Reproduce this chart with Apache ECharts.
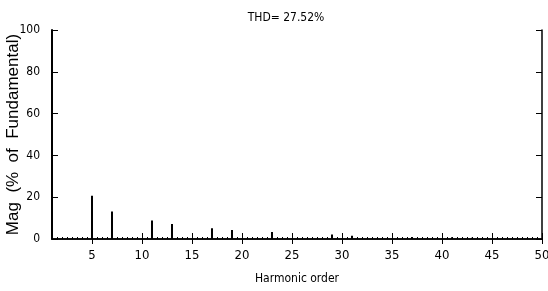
<!DOCTYPE html>
<html>
<head>
<meta charset="utf-8">
<script src="https://cdn.jsdelivr.net/npm/echarts@6/dist/echarts.min.js"></script>
<style>
  html, body { margin: 0; padding: 0; background: #fff; }
  #chart { width: 548px; height: 291px; }
</style>
</head>
<body>
<div id="chart"></div>
<script>
// harmonic spectrum
const orders = [1, 5, 7, 11, 13, 17, 19, 23, 29, 31, 37, 41, 43];
const mags = [100, 20.7, 13.1, 8.8, 7.2, 5.1, 4.3, 3.4, 2.2, 1.6, 0.9, 0.8, 0.6];
const xTicks = [5, 10, 15, 20, 25, 30, 35, 40, 45, 50];
const titleText = 'THD= 27.52%';

const narrow = '"Liberation Sans Narrow", "DejaVu Sans Condensed", "Liberation Sans", Arial, sans-serif';

let chart = echarts.init(document.getElementById('chart'));

const tickStyle = { show: true, inside: true, length: 6, lineStyle: { color: '#000', width: 1 } };

chart.setOption({
    animation: false,
    backgroundColor: '#fff',
    title: {
        text: titleText,
        left: 281,
        top: 7,
        textAlign: 'center',
        textStyle: { fontFamily: narrow, fontSize: 12, fontWeight: 'normal', color: '#000' }
    },
    grid: { left: 52, right: 6, top: 30, bottom: 52, outerBoundsMode: 'none', containLabel: false },
    xAxis: [{
        type: 'value',
        min: 1,
        max: 50,
        position: 'bottom',
        name: 'Harmonic order',
        nameLocation: 'middle',
        nameGap: 34,
        nameMoveOverlap: false,
        nameTextStyle: { fontFamily: narrow, fontSize: 12, color: '#000' },
        axisLine: { show: true, lineStyle: { color: '#000', width: 1.5 } },
        axisTick: { ...tickStyle, customValues: xTicks },
        axisLabel: { customValues: xTicks, fontFamily: narrow, fontSize: 13, color: '#000', margin: 10 },
        splitLine: { show: false }
    }, {
        type: 'value',
        min: 1,
        max: 50,
        position: 'top',
        axisLine: { show: true, lineStyle: { color: '#000', width: 1.5 } },
        axisTick: { ...tickStyle, length: 5, customValues: xTicks },
        axisLabel: { show: false },
        splitLine: { show: false }
    }, {
        // fine dotted baseline
        type: 'value',
        min: 1,
        max: 50,
        interval: 0.5,
        position: 'bottom',
        axisLine: { show: false },
        axisTick: { show: true, inside: true, length: 2, lineStyle: { color: '#000', width: 1 } },
        axisLabel: { show: false },
        splitLine: { show: false }
    }],
    yAxis: [{
        type: 'value',
        min: 0,
        max: 100,
        interval: 20,
        position: 'left',
        name: 'Mag  (%  of  Fundamental)',
        nameLocation: 'middle',
        nameGap: 30,
        nameMoveOverlap: false,
        nameRotate: 90,
        nameTextStyle: { fontFamily: '"Liberation Sans", Arial, sans-serif', fontSize: 17, color: '#000' },
        axisLine: { show: true, lineStyle: { color: '#000', width: 2 } },
        axisTick: tickStyle,
        axisLabel: { fontFamily: narrow, fontSize: 12, color: '#000', margin: 12 },
        splitLine: { show: false }
    }, {
        type: 'value',
        min: 0,
        max: 100,
        interval: 20,
        position: 'right',
        axisLine: { show: true, lineStyle: { color: '#000', width: 1.5 } },
        axisTick: tickStyle,
        axisLabel: { show: false },
        splitLine: { show: false }
    }],
    series: [{
        type: 'bar',
        xAxisIndex: 0,
        yAxisIndex: 0,
        barWidth: 2,
        itemStyle: { color: '#000' },
        data: orders.map((o, i) => [o, mags[i]])
    }]
});
</script>
</body>
</html>
